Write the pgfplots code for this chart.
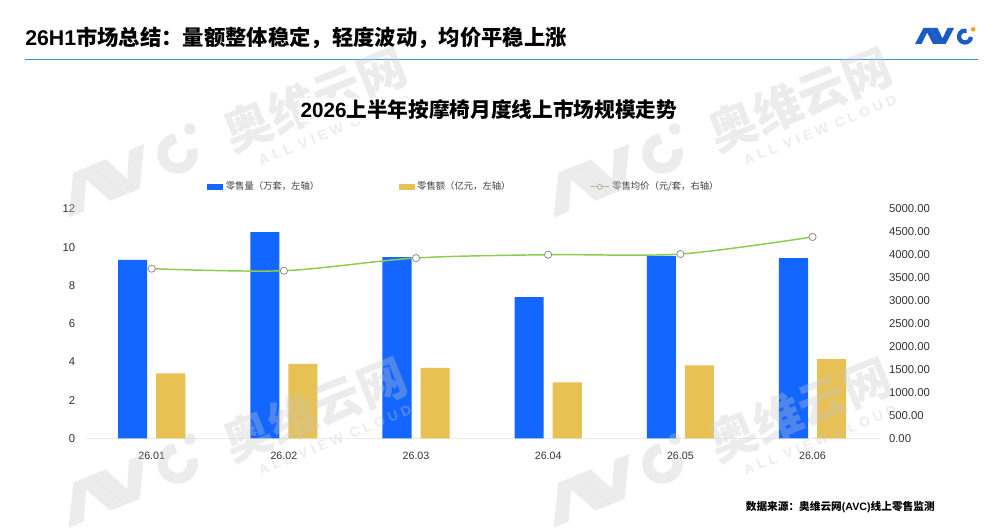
\documentclass[border=0pt]{standalone}
\usepackage{fontspec}
\setmainfont{Liberation Sans}
\newfontfamily\cjk{Noto Sans CJK SC}
\usepackage{pgfplots}
\pgfplotsset{compat=1.18}
\definecolor{barblue}{RGB}{19,102,255}
\definecolor{bargold}{RGB}{232,193,84}
\definecolor{linegreen}{RGB}{140,206,76}
\definecolor{hdrblue}{RGB}{60,145,222}
\definecolor{logoblue}{RGB}{26,91,200}
\definecolor{logoorange}{RGB}{245,160,40}
\definecolor{wmgray}{RGB}{200,200,200}
\newcommand\avclogo[3]{% #1 color A/V/C, #2 dot color, #3 arc line width
  \fill[#1] (-31,8) -- (-22.5,-8) -- (-15,-8) -- (-6.5,8) -- (-13,8) -- (-18.8,-3.5) -- (-24.5,8) -- cycle;
  \fill[#1] (-15,-8) -- (-8.5,-8) -- (-3.5,2.5) -- (1.5,-8) -- (8,-8) -- (-0.3,8) -- (-6.7,8) -- cycle;
  \draw[#1, line width=#3] (24.98,1.02) arc[start angle=5, end angle=285, radius=6];
  \fill[#2] (27.2,-6.7) circle (2.3);
}
\begin{document}
\begin{tikzpicture}
\begin{scope}[x=0.75pt,y=-0.75pt]
\fill[white] (0,0) rectangle (1000,523);
\path[use as bounding box] (0,0) rectangle (1000,523);
% header
\node[anchor=west, inner sep=0pt] at (25,37.5) {\fontsize{16}{16}\selectfont\bfseries 26H1{\cjk 市场总结：量额整体稳定，轻度波动，均价平稳上涨}};
\draw[hdrblue, line width=1.1pt] (25,59.5) -- (978,59.5);
% logo
\begin{scope}[shift={(946,36)}]
\avclogo{logoblue}{logoorange}{3.2pt}
\end{scope}
% source
\node[anchor=east, inner sep=0pt] at (935,507) {\fontsize{8}{8}\selectfont\bfseries{\cjk 数据来源：奥维云网}(AVC){\cjk 线上零售监测}};
\end{scope}

\begin{axis}[
  at={(64.2pt,-328.7pt)}, anchor=south west,
  scale only axis, width=594.75pt, height=172pt,
  xmin=-0.5, xmax=5.5, ymin=0, ymax=12,
  axis x line*=bottom, axis y line*=left,
  axis line style={-},
  x axis line style={draw=black!8, line width=0.75pt},
  y axis line style={draw=none},
  major tick length=0pt,
  xtick={0,1,2,3,4,5},
  xticklabels={26.01,26.02,26.03,26.04,26.05,26.06},
  ytick={0,2,4,6,8,10,12},
  /pgf/number format/assume math mode=true,
  tick label style={text=black!80},
  xticklabel style={font=\fontsize{8}{8}\selectfont, anchor=north, inner sep=0pt, yshift=-10pt},
  yticklabel style={font=\fontsize{8.5}{8.5}\selectfont, anchor=east, inner sep=0pt, xshift=-7.6pt},
  legend columns=3,
  legend style={at={(rel axis cs:0.153,1.096)}, anchor=west, draw=none, fill=none, inner sep=0pt,
    font=\cjk\fontsize{7}{7.5}\selectfont, text=black!75,
    /tikz/every even column/.append style={column sep=57.5pt}},
  legend cell align=left,
]
\addplot[ybar, bar width=0.22, bar shift=-0.144, fill=barblue, draw=none,
  legend image code/.code={\fill[barblue] (0pt,-2.25pt) rectangle (12pt,2.25pt);}]
  coordinates {(0,9.33) (1,10.78) (2,9.48) (3,7.38) (4,9.54) (5,9.42)};
\addlegendentry{零售量（万套，左轴）}
\addplot[ybar, bar width=0.22, bar shift=0.144, fill=bargold, draw=none,
  legend image code/.code={\fill[bargold] (0pt,-2.25pt) rectangle (12pt,2.25pt);}]
  coordinates {(0,3.40) (1,3.89) (2,3.68) (3,2.93) (4,3.82) (5,4.14)};
\addlegendentry{零售额（亿元，左轴）}
\addlegendimage{legend image code/.code={\draw[linegreen, line width=0.75pt] (0pt,0pt) -- (14pt,0pt); \draw[black!50, fill=white, line width=0.4pt] (7pt,0pt) circle (1.8pt);}}
\addlegendentry{零售均价（元/套，右轴）}
\end{axis}

\begin{axis}[
  at={(64.2pt,-328.7pt)}, anchor=south west,
  scale only axis, width=594.75pt, height=172pt,
  xmin=-0.5, xmax=5.5, ymin=0, ymax=5000,
  hide x axis,
  axis y line*=right,
  y axis line style={draw=none},
  major tick length=0pt,
  ytick={0,500,...,5000},
  /pgf/number format/assume math mode=true,
  yticklabel style={font=\fontsize{8.5}{8.5}\selectfont, text=black!80, anchor=west, inner sep=0pt, xshift=7.6pt,
    /pgf/number format/.cd, fixed, fixed zerofill, precision=2, 1000 sep={}},
  clip=false,
]
\addplot[linegreen, line width=1.1pt, smooth, tension=0.5, mark=*, mark size=2.7pt,
  mark options={fill=white, draw=black!45, line width=0.6pt}]
  coordinates {(0,3697) (1,3653) (2,3930) (3,4002) (4,4017) (5,4389)};
\end{axis}

\begin{scope}[x=0.75pt,y=-0.75pt]
\foreach \dx/\dy in {0/0,485/0,0/310,485/310}{
  \begin{scope}[shift={(\dx,\dy)}]
  \begin{scope}[shift={(133,170)}, rotate=22, scale=2.5, opacity=0.33]
  \avclogo{wmgray}{wmgray}{8pt}
  \end{scope}
  \node[rotate=22, text=wmgray, opacity=0.33, inner sep=0pt] at (315,100) {\cjk\bfseries\fontsize{36}{36}\selectfont 奥维云网};
  \node[rotate=22, text=wmgray, opacity=0.33, inner sep=0pt] at (335,130) {\fontsize{10.5}{10.5}\selectfont\bfseries A L L\ \ V I E W\ \ C L O U D};
  \end{scope}
}
% chart title on top
\node[inner sep=1.5pt, fill=white] at (489,110) {\fontsize{15.5}{15.5}\selectfont\bfseries 2026{\cjk 上半年按摩椅月度线上市场规模走势}};
\end{scope}
\end{tikzpicture}
\end{document}
